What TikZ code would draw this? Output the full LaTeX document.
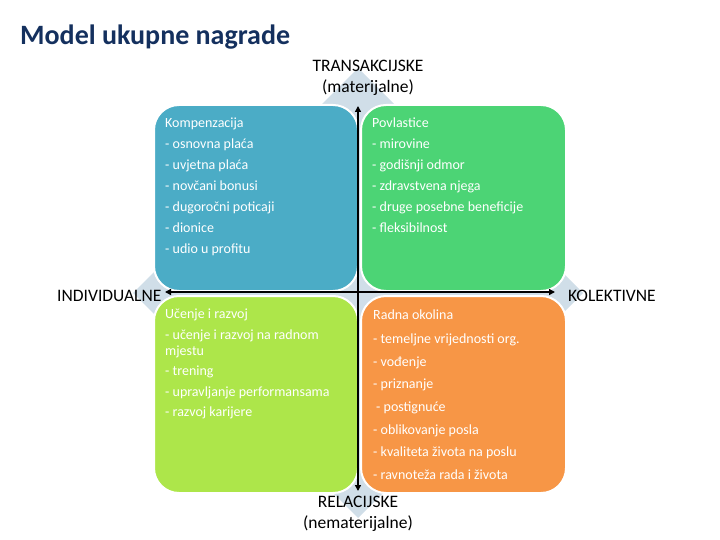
\documentclass[tikz,border=0pt]{standalone}
\usepackage{fontspec}
\setmainfont{Carlito}
\usetikzlibrary{arrows.meta}
\definecolor{cBlue}{HTML}{4BACC6}
\definecolor{cGreen}{HTML}{4CD475}
\definecolor{cLime}{HTML}{ADE64A}
\definecolor{cOrange}{HTML}{F79646}
\definecolor{cDiam}{HTML}{D0DEE8}
\definecolor{cTitle}{HTML}{14305E}
\begin{document}
\begin{tikzpicture}[x=1pt,y=-1pt,
  box/.style={draw=white, line width=2pt, rounded corners=25pt, anchor=north west, inner sep=0pt},
  boxtxt/.style={text=white, align=left, anchor=north west, inner sep=0pt},
  axlabel/.style={inner sep=0pt, font=\fontsize{17.5}{21}\selectfont, align=center},
  axis/.style={line width=1.5pt, {Triangle[length=6pt,width=6pt]}-{Triangle[length=6pt,width=6pt]}}]
\useasboundingbox (0,0) rectangle (720,540);
% background diamond
\fill[cDiam] (133,293) -- (358,68) -- (583,293) -- (358,518) -- cycle;
% title
\node[anchor=west, inner sep=0pt, text=cTitle, font=\fontsize{28}{32}\selectfont\bfseries] (title) at (20,37) {Model ukupne nagrade};
% boxes
\node[box, fill=cBlue, minimum width=204pt, minimum height=186pt] (comp) at (153,104) {};
\node[box, fill=cGreen, minimum width=205pt, minimum height=186pt] (povl) at (360,104) {};
\node[box, fill=cLime, minimum width=204pt, minimum height=197pt] (ucen) at (153,295) {};
\node[box, fill=cOrange, minimum width=205pt, minimum height=197pt] (radn) at (360,295) {};
% box texts
\node[boxtxt, font=\fontsize{14}{21}\selectfont] (compT) at (165,118) {Kompenzacija\\- osnovna plaća\\- uvjetna plaća\\- novčani bonusi\\- dugoročni poticaji\\- dionice\\- udio u profitu};
\node[boxtxt, font=\fontsize{14}{21}\selectfont] (povlT) at (372,118) {Povlastice\\- mirovine\\- godišnji odmor\\- zdravstvena njega\\- druge posebne beneficije\\- fleksibilnost};
\node[boxtxt, font=\fontsize{14}{20.5}\selectfont] (ucenT) at (165,309) {Učenje i razvoj\\- učenje i razvoj na radnom\\[-4.5pt]mjestu\\- trening\\- upravljanje performansama\\- razvoj karijere};
\node[boxtxt, font=\fontsize{14}{22.7}\selectfont] (radnT) at (373,309.5) {Radna okolina\\[1.3pt]- temeljne vrijednosti org.\\- vođenje\\- priznanje\\\hspace{3pt}- postignuće\\- oblikovanje posla\\- kvaliteta života na poslu\\- ravnoteža rada i života};
% axes
\coordinate (top) at (358,106);
\coordinate (bot) at (358,491);
\coordinate (lft) at (165,292);
\coordinate (rgt) at (555,292);
\draw[axis] (bot) -- (top);
\draw[axis] (lft) -- (rgt);
% axis labels
\node[axlabel] (trans) at (368,78) {TRANSAKCIJSKE\\(materijalne)};
\node[axlabel, anchor=west] (indiv) at (57,296) {INDIVIDUALNE};
\node[axlabel, anchor=west] (kolek) at (568,296) {KOLEKTIVNE};
\node[axlabel] (relac) at (358,514) {RELACIJSKE\\(nematerijalne)};
\end{tikzpicture}
\end{document}
